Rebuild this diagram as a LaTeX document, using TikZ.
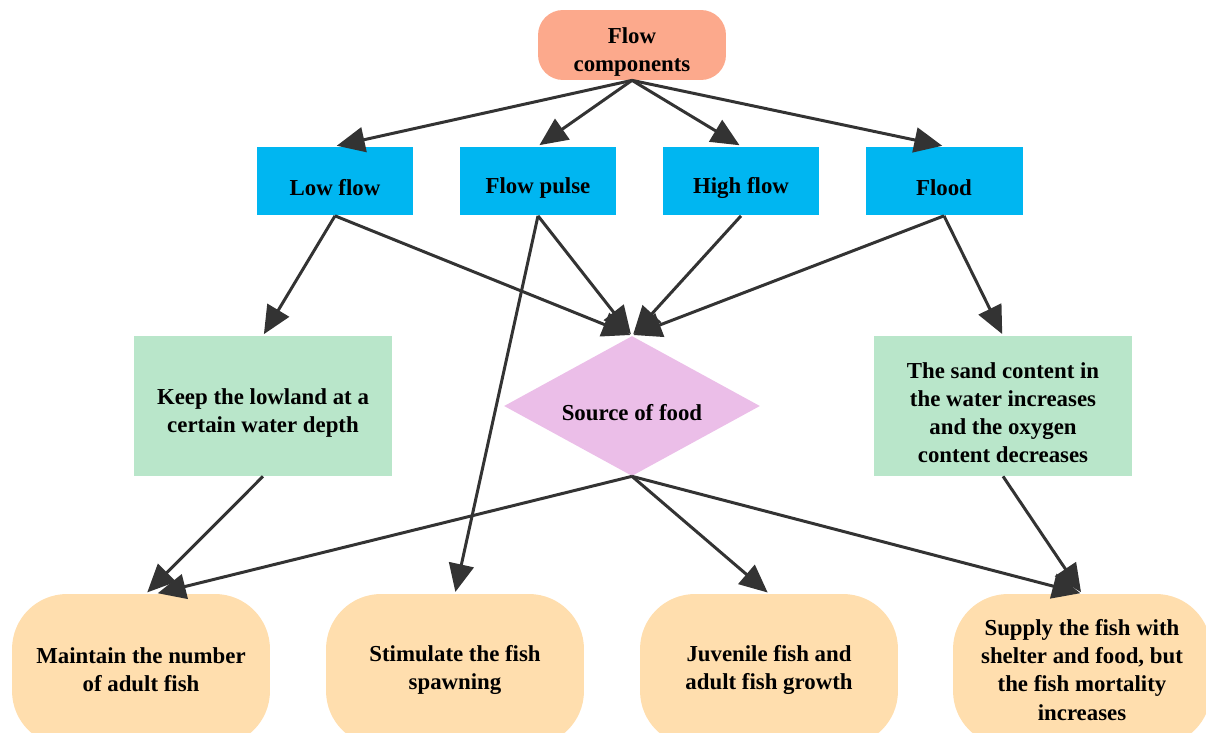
\documentclass[tikz,border=0pt]{standalone}
\usepackage{fontspec}
\setmainfont{Liberation Serif}
\usetikzlibrary{shapes.geometric,arrows.meta}
\definecolor{topc}{RGB}{252,169,140}
\definecolor{bluec}{RGB}{0,182,241}
\definecolor{greenc}{RGB}{185,230,202}
\definecolor{diac}{RGB}{235,190,232}
\definecolor{peach}{RGB}{255,222,174}
\definecolor{edgec}{RGB}{51,51,51}
\newcommand\lw{\rule{0pt}{17pt}}
\tikzset{
  base/.style={font=\bfseries\fontsize{13}{16}\selectfont, align=center, inner sep=0pt, text=black},
  topbox/.style={base, fill=topc, rounded corners=0.5cm, minimum width=3.76cm, minimum height=1.4cm},
  bluebox/.style={base, fill=bluec, minimum width=3.14cm, minimum height=1.38cm},
  greenbox/.style={base, fill=greenc, minimum width=5.18cm, minimum height=2.8cm},
  diabox/.style={base, shape=diamond, fill=diac, aspect=1.8, minimum width=5.12cm, minimum height=2.8cm},
  endbox/.style={base, fill=peach, rounded corners=1.1cm, minimum width=5.16cm, minimum height=3.04cm},
  arr/.style={draw=edgec, line width=1.7pt, -{Triangle[length=0.56cm,width=0.5cm]}, shorten >=1pt}
}
\begin{document}
\begin{tikzpicture}[x=0.02cm,y=-0.02cm]
\useasboundingbox (0,0) rectangle (1206,733);
\clip (0,0) rectangle (1206,733);
\node[topbox] (fc) at (632,45) {\lw Flow\\components};
\node[bluebox] (low) at (335,181) {\lw Low flow};
\node[bluebox] (pulse) at (538,181) {\lw Flow pulse};
\node[bluebox] (high) at (741,181) {\lw High flow};
\node[bluebox] (flood) at (944,181) {\lw Flood};
\node[greenbox] (keep) at (263,406) {\lw Keep the lowland at a\\certain water depth};
\node[diabox] (food) at (632,406) {\lw Source of food};
\node[greenbox] (sand) at (1003,406) {\lw The sand content in\\the water increases\\and the oxygen\\content decreases};
\node[endbox] (adult) at (141,670) {Maintain the number\\of adult fish};
\node[endbox] (spawn) at (455,670) {Stimulate the fish\\spawning};
\node[endbox] (juv) at (769,670) {Juvenile fish and\\adult fish growth};
\node[endbox] (supply) at (1082,670) {Supply the fish with\\shelter and food, but\\the fish mortality\\increases};
\draw[arr] (fc.south) -- (low.north);
\draw[arr] (fc.south) -- (pulse.north);
\draw[arr] (fc.south) -- (high.north);
\draw[arr] (fc.south) -- (flood.north);
\draw[arr] (low.south) -- (keep.north);
\draw[arr] (low.south) -- (food.north);
\draw[arr] (pulse.south) -- (food.north);
\draw[arr] (pulse.south) -- (spawn.north);
\draw[arr] (high.south) -- (food.north);
\draw[arr] (flood.south) -- (food.north);
\draw[arr] (flood.south) -- (sand.north);
\draw[arr] (keep.south) -- ([xshift=0.1cm]adult.north);
\draw[arr] (food.south) -- ([xshift=0.3cm]adult.north);
\draw[arr] (food.south) -- (juv.north);
\draw[arr] (food.south) -- (supply.north);
\draw[arr] (sand.south) -- (supply.north);
\end{tikzpicture}
\end{document}
